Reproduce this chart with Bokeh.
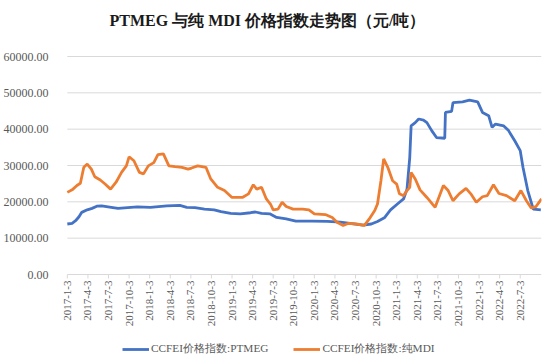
from math import pi
from bokeh.plotting import figure
from bokeh.models import (ColumnDataSource, FixedTicker, NumeralTickFormatter, Legend,
                          LegendItem, Range1d)
from bokeh.core.properties import value
from bokeh.embed import file_html
from bokeh.resources import INLINE

# x positions are months elapsed since 2017-1-3 (category axis of the original)
tick_months = list(range(0, 67, 3))
tick_labels = ["2017-1-3", "2017-4-3", "2017-7-3", "2017-10-3",
               "2018-1-3", "2018-4-3", "2018-7-3", "2018-10-3",
               "2019-1-3", "2019-4-3", "2019-7-3", "2019-10-3",
               "2020-1-3", "2020-4-3", "2020-7-3", "2020-10-3",
               "2021-1-3", "2021-4-3", "2021-7-3", "2021-10-3",
               "2022-1-3", "2022-4-3", "2022-7-3"]
x_last = 69.1

ptmeg_month = [0, 0.7, 1.2, 1.7, 2.1, 2.9, 3.6, 4.3, 5, 6.4, 7.4, 8.8, 10.2, 12.1, 14.5,
               16.4, 17.4, 18.6, 20, 21.4, 22.4, 23.8, 25.2, 26.7, 27.4, 28.3, 29.5, 30.5,
               31.9, 33.3, 35.7, 37.9, 39.8, 43.1, 44.3, 45.2, 46.2, 47.1, 48.1, 49, 49.5,
               49.9, 50.1, 50.7, 51.2, 51.9, 52.4, 53.1, 53.8, 55, 55.1, 56, 56.2, 57.6,
               58.6, 59.8, 60.5, 61.4, 61.9, 62.4, 63.6, 64.3, 65.2, 66, 66.4, 67.1, 67.9, 69]
ptmeg_value = [13900, 14100, 14800, 15900, 17100, 17800, 18200, 18800, 18900, 18500, 18200,
               18400, 18600, 18500, 18900, 19000, 18500, 18400, 18000, 17800, 17300, 16800,
               16700, 17000, 17200, 16800, 16700, 15700, 15300, 14700, 14700, 14600, 14400,
               13600, 13900, 14600, 15600, 17800, 19400, 20800, 23500, 32200, 40900, 41800,
               42800, 42500, 41800, 39600, 37700, 37500, 44600, 44900, 47300, 47500, 48000,
               47500, 44600, 43700, 40500, 41400, 40900, 39600, 36800, 34100, 29500, 23100,
               18000, 17800]

mdi_month = [0, 0.7, 1.4, 1.9, 2.4, 2.9, 3.5, 4, 4.8, 5.5, 6.3, 7.1, 7.9, 8.6, 9, 9.7, 10.5,
             11.1, 11.8, 12.6, 13.2, 14, 14.8, 15.7, 16.7, 17.6, 18.1, 19, 20.2, 20.9, 21.9,
             22.9, 24, 25.5, 26.4, 27.1, 27.6, 28.3, 29, 29.6, 30, 30.7, 31.3, 31.9, 32.9,
             34.3, 35.2, 36, 37.6, 38.6, 39.3, 40.2, 41, 42.1, 43.3, 44, 44.8, 45.2, 45.7,
             46.1, 46.7, 47.4, 48, 48.4, 49, 49.5, 49.9, 50.1, 50.7, 51.4, 52.4, 53.6, 54.8,
             55.5, 56.2, 57.1, 58.1, 58.8, 59.6, 60.5, 61.2, 62.1, 62.9, 64, 65.2, 66.1,
             66.9, 67.6, 68.3, 69.1]
mdi_value = [22600, 23300, 24500, 25100, 29500, 30400, 29000, 26900, 26000, 24900, 23500,
             25400, 28100, 29900, 32400, 31300, 28100, 27700, 29900, 30800, 33000, 33200,
             29900, 29700, 29500, 29000, 29300, 29900, 29500, 26300, 24000, 23100, 21200,
             21200, 22200, 24700, 23500, 24000, 20800, 19400, 17800, 18000, 19900, 18700,
             18000, 18000, 17800, 16700, 16500, 15700, 14400, 13500, 14100, 13900, 13500,
             15300, 17600, 19400, 25800, 31800, 29500, 25800, 24900, 22200, 21700, 23100,
             24000, 28100, 26300, 23300, 21200, 18500, 24500, 23100, 20300, 22200, 23700,
             22200, 19900, 21400, 21700, 24700, 22300, 21700, 20300, 23100, 20300, 18300,
             18700, 20800]

series_names = ["CCFEI价格指数:PTMEG", "CCFEI价格指数:纯MDI"]
y_ticks = [0, 10000, 20000, 30000, 40000, 50000, 60000]

SERIF = "Liberation Serif"
GRAY = "#595959"
BLUE = "#4472C4"
ORANGE = "#ED7D31"
AXIS_GRAY = "#d9d9d9"

# layout (pixels): frame spans the whole area below the title; the value axis
# 0..60000 occupies 218 px, with 21 px of room above and 82 px below for labels/legend
FIG_W, FIG_H = 544, 356
TOP, LEFT, RIGHT = 35, 49, 3
PLOT_H, ABOVE, BELOW = 218, 21, 82
PAD_LEFT = 8
ypx = 60000 / PLOT_H
xpx = x_last / (FIG_W - LEFT - RIGHT - PAD_LEFT)

p = figure(width=FIG_W, height=FIG_H, output_backend="svg", toolbar_location=None,
           x_range=Range1d(-PAD_LEFT * xpx, x_last),
           y_range=Range1d(-BELOW * ypx, 60000 + ABOVE * ypx),
           x_axis_location=None,
           min_border_left=LEFT, min_border_right=RIGHT, min_border_bottom=0,
           min_border_top=TOP,
           title="PTMEG 与纯 MDI 价格指数走势图（元/吨）")
p.title.text_font = SERIF
p.title.text_font_size = "16px"
p.title.text_font_style = "bold"
p.title.text_color = "#1a1a1a"
p.title.align = "left"
p.title.offset = 50
p.title.standoff = 10
p.title.vertical_align = "top"

p.outline_line_color = None
p.background_fill_color = "white"
p.border_fill_color = "white"
p.grid.visible = False

# horizontal gridlines over the category span (the one at 0 is the axis line)
p.segment(x0=[0] * len(y_ticks), y0=y_ticks, x1=[x_last] * len(y_ticks), y1=y_ticks,
          line_color=AXIS_GRAY, line_width=1)

# category axis ticks and rotated labels
p.segment(x0=tick_months, y0=[0] * len(tick_months), x1=tick_months,
          y1=[-4 * ypx] * len(tick_months), line_color=AXIS_GRAY, line_width=1)
p.text(x=tick_months, y=[0] * len(tick_months), text=tick_labels, angle=pi / 2,
       text_align="right", text_baseline="middle", y_offset=6,
       text_font=value(SERIF), text_font_size="11px", text_color=GRAY)

src_p = ColumnDataSource(dict(x=ptmeg_month, y=ptmeg_value))
src_m = ColumnDataSource(dict(x=mdi_month, y=mdi_value))
r1 = p.line("x", "y", source=src_p, line_color=BLUE, line_width=2.8)
r2 = p.line("x", "y", source=src_m, line_color=ORANGE, line_width=2.8)

p.yaxis.ticker = FixedTicker(ticks=y_ticks)
p.yaxis.formatter = NumeralTickFormatter(format="0.00")
p.yaxis.axis_line_color = None
p.yaxis.major_tick_line_color = None
p.yaxis.minor_tick_line_color = None
p.yaxis.major_label_standoff = 5
p.yaxis.major_label_text_font = SERIF
p.yaxis.major_label_text_font_size = "12px"
p.yaxis.major_label_text_color = GRAY

legend = Legend(items=[LegendItem(label=series_names[0], renderers=[r1]),
                       LegendItem(label=series_names[1], renderers=[r2])],
                location=(63, 0), orientation="horizontal")
legend.border_line_color = None
legend.background_fill_alpha = 0
legend.padding = 0
legend.margin = 0
legend.spacing = 25
legend.glyph_width = 27
legend.glyph_height = 14
legend.label_height = 14
legend.label_standoff = 2
legend.label_text_font = SERIF
legend.label_text_font_size = "11.3px"
legend.label_text_color = GRAY
p.add_layout(legend, "center")

open("out.html", "w").write(file_html(p, INLINE))
